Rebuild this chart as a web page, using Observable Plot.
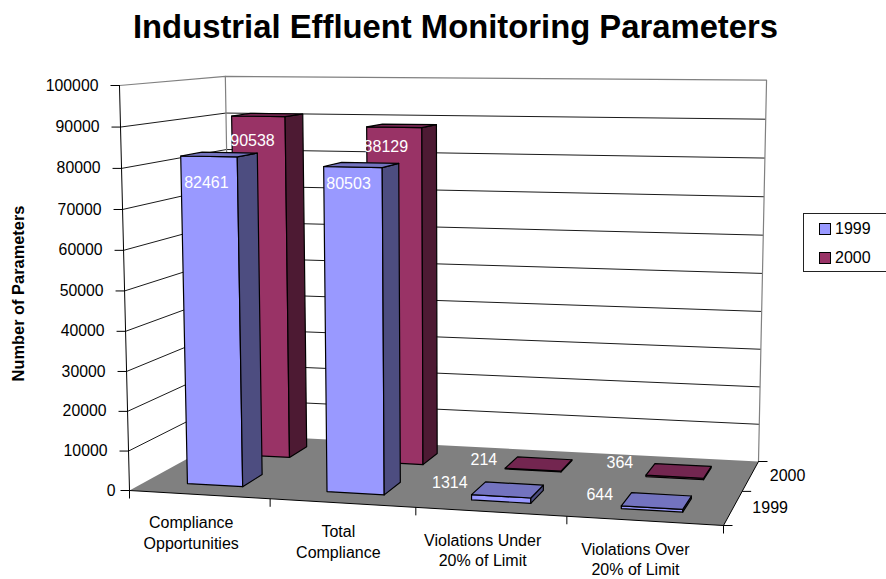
<!DOCTYPE html>
<html><head><meta charset="utf-8">
<script src="https://cdn.jsdelivr.net/npm/d3@7"></script>
<script src="https://cdn.jsdelivr.net/npm/@observablehq/plot@0.6"></script>
<style>
html,body{margin:0;padding:0;background:#fff;}
#wrap{position:relative;width:886px;height:579px;overflow:hidden;font-family:"Liberation Sans",Arial,sans-serif;color:#000;}
#title{position:absolute;left:0;top:9px;width:911px;text-align:center;font-size:32.8px;font-weight:bold;line-height:36px;white-space:nowrap;}
#legend{position:absolute;left:803px;top:213px;width:100px;height:57px;border:1px solid #222;background:#fff;box-sizing:content-box;font-size:16px;}
#legend .row{position:absolute;left:15px;height:18px;line-height:18px;white-space:nowrap;}
#legend .sw{display:inline-block;width:10px;height:10px;border:1px solid #000;margin-right:4px;vertical-align:-1px;}
svg{position:absolute;left:0;top:0;}
</style></head><body>
<div id="wrap"><div id="title"></div><div id="legend"></div></div>
<script>
const chartTitle = "Industrial Effluent Monitoring Parameters";
const yAxisTitle = "Number of Parameters";
const categories = [["Compliance","Opportunities"],["Total","Compliance"],["Violations Under","20% of Limit"],["Violations Over","20% of Limit"]];
const seriesNames = ["1999","2000"];
const values1999 = [82461,80503,1314,644];
const values2000 = [90538,88129,214,364];
const valueTicks = [0,10000,20000,30000,40000,50000,60000,70000,80000,90000,100000];

const faces = {
  "1999":{front:"#9999FF",side:"#4D4D80",top:"#7373BF"},
  "2000":{front:"#993366",side:"#4D1A33",top:"#732650"}
};
// projection calibration: floor corners on the page and the vanishing point of the verticals
const floorQuad=[[129,490],[723,525],[758,461],[231,434]];
const vertVP=[468,14200], vertLambda=-405/(14200-85);
const labelNudge={ "1999":[[-13,28],[-13,19],[-58,-7],[-57,-6]], "2000":[[-15,26],[-16,21],[-55,-4],[-59,-8]] };
const categoryNudge=[-8,-4,-8,-9];

function homography(q){
  const [[x0,y0],[x1,y1],[x2,y2],[x3,y3]]=q;
  const dx1=x1-x2,dx2=x3-x2,dy1=y1-y2,dy2=y3-y2,sx=x0-x1+x2-x3,sy=y0-y1+y2-y3;
  const den=dx1*dy2-dx2*dy1,g=(sx*dy2-dx2*sy)/den,h=(dx1*sy-sx*dy1)/den;
  const a=x1-x0+g*x1,b=x3-x0+h*x3,d=y1-y0+g*y1,e=y3-y0+h*y3;
  return (s,t,k)=>{const D=g*s+h*t+1+k*vertLambda;
    return [(a*s+b*t+x0+k*vertLambda*vertVP[0])/D,(d*s+e*t+y0+k*vertLambda*vertVP[1])/D];};
}
const H=homography(floorQuad);
const vScale=d3.scaleLinear([0,100000],[0,1]);
// u: category position 0..4, w: series depth 0..2, v: value
function P(u,w,v){
  const p=H(u/categories.length,w/seriesNames.length,vScale(v));
  return {x:p[0],y:p[1]};
}
const poly=(pts,fill,stroke,sw=1)=>Plot.line(pts,{x:"x",y:"y",fill,stroke,strokeWidth:sw,curve:"linear-closed"});
const seg=(pts,stroke,sw=1)=>Plot.line(pts,{x:"x",y:"y",stroke,strokeWidth:sw});

const marks=[];
// walls
marks.push(poly([P(0,0,0),P(0,2,0),P(0,2,1e5),P(0,0,1e5)],"#fff","none"));
marks.push(poly([P(0,2,0),P(4,2,0),P(4,2,1e5),P(0,2,1e5)],"#fff","none"));
// gridlines
const grid=valueTicks.slice(1,-1);
marks.push(Plot.link(grid,{x1:v=>P(0,0,v).x,y1:v=>P(0,0,v).y,x2:v=>P(0,2,v).x,y2:v=>P(0,2,v).y,stroke:"#1a1a1a",strokeWidth:1}));
marks.push(Plot.link(grid,{x1:v=>P(0,2,v).x,y1:v=>P(0,2,v).y,x2:v=>P(4,2,v).x,y2:v=>P(4,2,v).y,stroke:"#1a1a1a",strokeWidth:1}));
// wall outlines
marks.push(seg([P(0,0,1e5),P(0,2,1e5),P(4,2,1e5),P(4,2,0)],"#808080",1.2));
marks.push(seg([P(0,2,1e5),P(0,2,0)],"#808080",1.2));
// floor
marks.push(poly([P(0,0,0),P(4,0,0),P(4,2,0),P(0,2,0)],"#808080","none"));
// axes
marks.push(seg([P(0,0,1e5),P(0,0,0),P(4,0,0),P(4,2,0)],"#000",1));
marks.push(Plot.link(valueTicks,{x1:v=>P(0,0,v).x-9,y1:v=>P(0,0,v).y,x2:v=>P(0,0,v).x,y2:v=>P(0,0,v).y,stroke:"#000",strokeWidth:1}));
marks.push(Plot.text(valueTicks,{x:v=>P(0,0,v).x-(v===0?14:21),y:v=>P(0,0,v).y,text:v=>String(v),textAnchor:"end",fontSize:15.8,fill:"#000"}));
const edge=d3.range(categories.length+1);
marks.push(Plot.link(edge,{x1:u=>P(u,0,0).x,y1:u=>P(u,0,0).y,x2:u=>P(u,0,0).x,y2:u=>P(u,0,0).y+8,stroke:"#000",strokeWidth:1}));
const depth=d3.range(seriesNames.length+1);
marks.push(Plot.link(depth,{x1:w=>P(4,w,0).x,y1:w=>P(4,w,0).y,x2:w=>P(4,w,0).x+9,y2:w=>P(4,w,0).y,stroke:"#000",strokeWidth:1}));
marks.push(Plot.text(seriesNames,{x:(d,i)=>P(4,i+.5,0).x+37,y:(d,i)=>P(4,i+.5,0).y,text:d=>d,fontSize:16,fill:"#000"}));
marks.push(Plot.text(categories,{x:(d,i)=>P(i+.5,0,0).x+categoryNudge[i],y:(d,i)=>P(i+.5,0,0).y+37.5,text:d=>d.join("\n"),fontSize:16,lineHeight:1.3,fill:"#000"}));
// bars, back row first
[1,0].forEach(j=>{
  const name=seriesNames[j],vals=j?values2000:values1999,c=faces[name];
  vals.forEach((v,i)=>{
    const u0=i+.3,u1=i+.7,w0=j+.3,w1=j+.7;
    marks.push(poly([P(u0,w0,0),P(u1,w0,0),P(u1,w0,v),P(u0,w0,v)],c.front,"#000",1.2));
    marks.push(poly([P(u1,w0,0),P(u1,w1,0),P(u1,w1,v),P(u1,w0,v)],c.side,"#000",1.2));
    marks.push(poly([P(u0,w0,v),P(u1,w0,v),P(u1,w1,v),P(u0,w1,v)],c.top,"#000",1.2));
  });
});
// data labels
[1,0].forEach(j=>{
  const name=seriesNames[j],vals=j?values2000:values1999;
  marks.push(Plot.text(vals,{
    x:(v,i)=>P(i+.5,j+.5,v).x+labelNudge[name][i][0],
    y:(v,i)=>P(i+.5,j+.5,v).y+labelNudge[name][i][1],
    text:v=>String(v),fontSize:16,fill:"#fff"}));
});
marks.push(Plot.text([yAxisTitle],{x:()=>18,y:()=>293,text:d=>d,rotate:-90,fontSize:16.4,fontWeight:"bold",fill:"#000"}));

const chart=Plot.plot({width:886,height:579,margin:0,
  style:{fontFamily:'"Liberation Sans",Arial,sans-serif',background:"transparent",overflow:"visible"},
  x:{domain:[0,886],range:[0,886],axis:null},
  y:{domain:[0,579],range:[0,579],axis:null},
  marks});
const wrap=document.getElementById("wrap");
wrap.insertBefore(chart,wrap.firstChild);
document.getElementById("title").textContent=chartTitle;
const lg=document.getElementById("legend");
seriesNames.forEach((n,i)=>{
  const r=document.createElement("div");r.className="row";r.style.top=(6+i*29)+"px";
  const s=document.createElement("span");s.className="sw";s.style.background=faces[n].front;
  r.appendChild(s);r.appendChild(document.createTextNode(n));lg.appendChild(r);
});
</script></body></html>
